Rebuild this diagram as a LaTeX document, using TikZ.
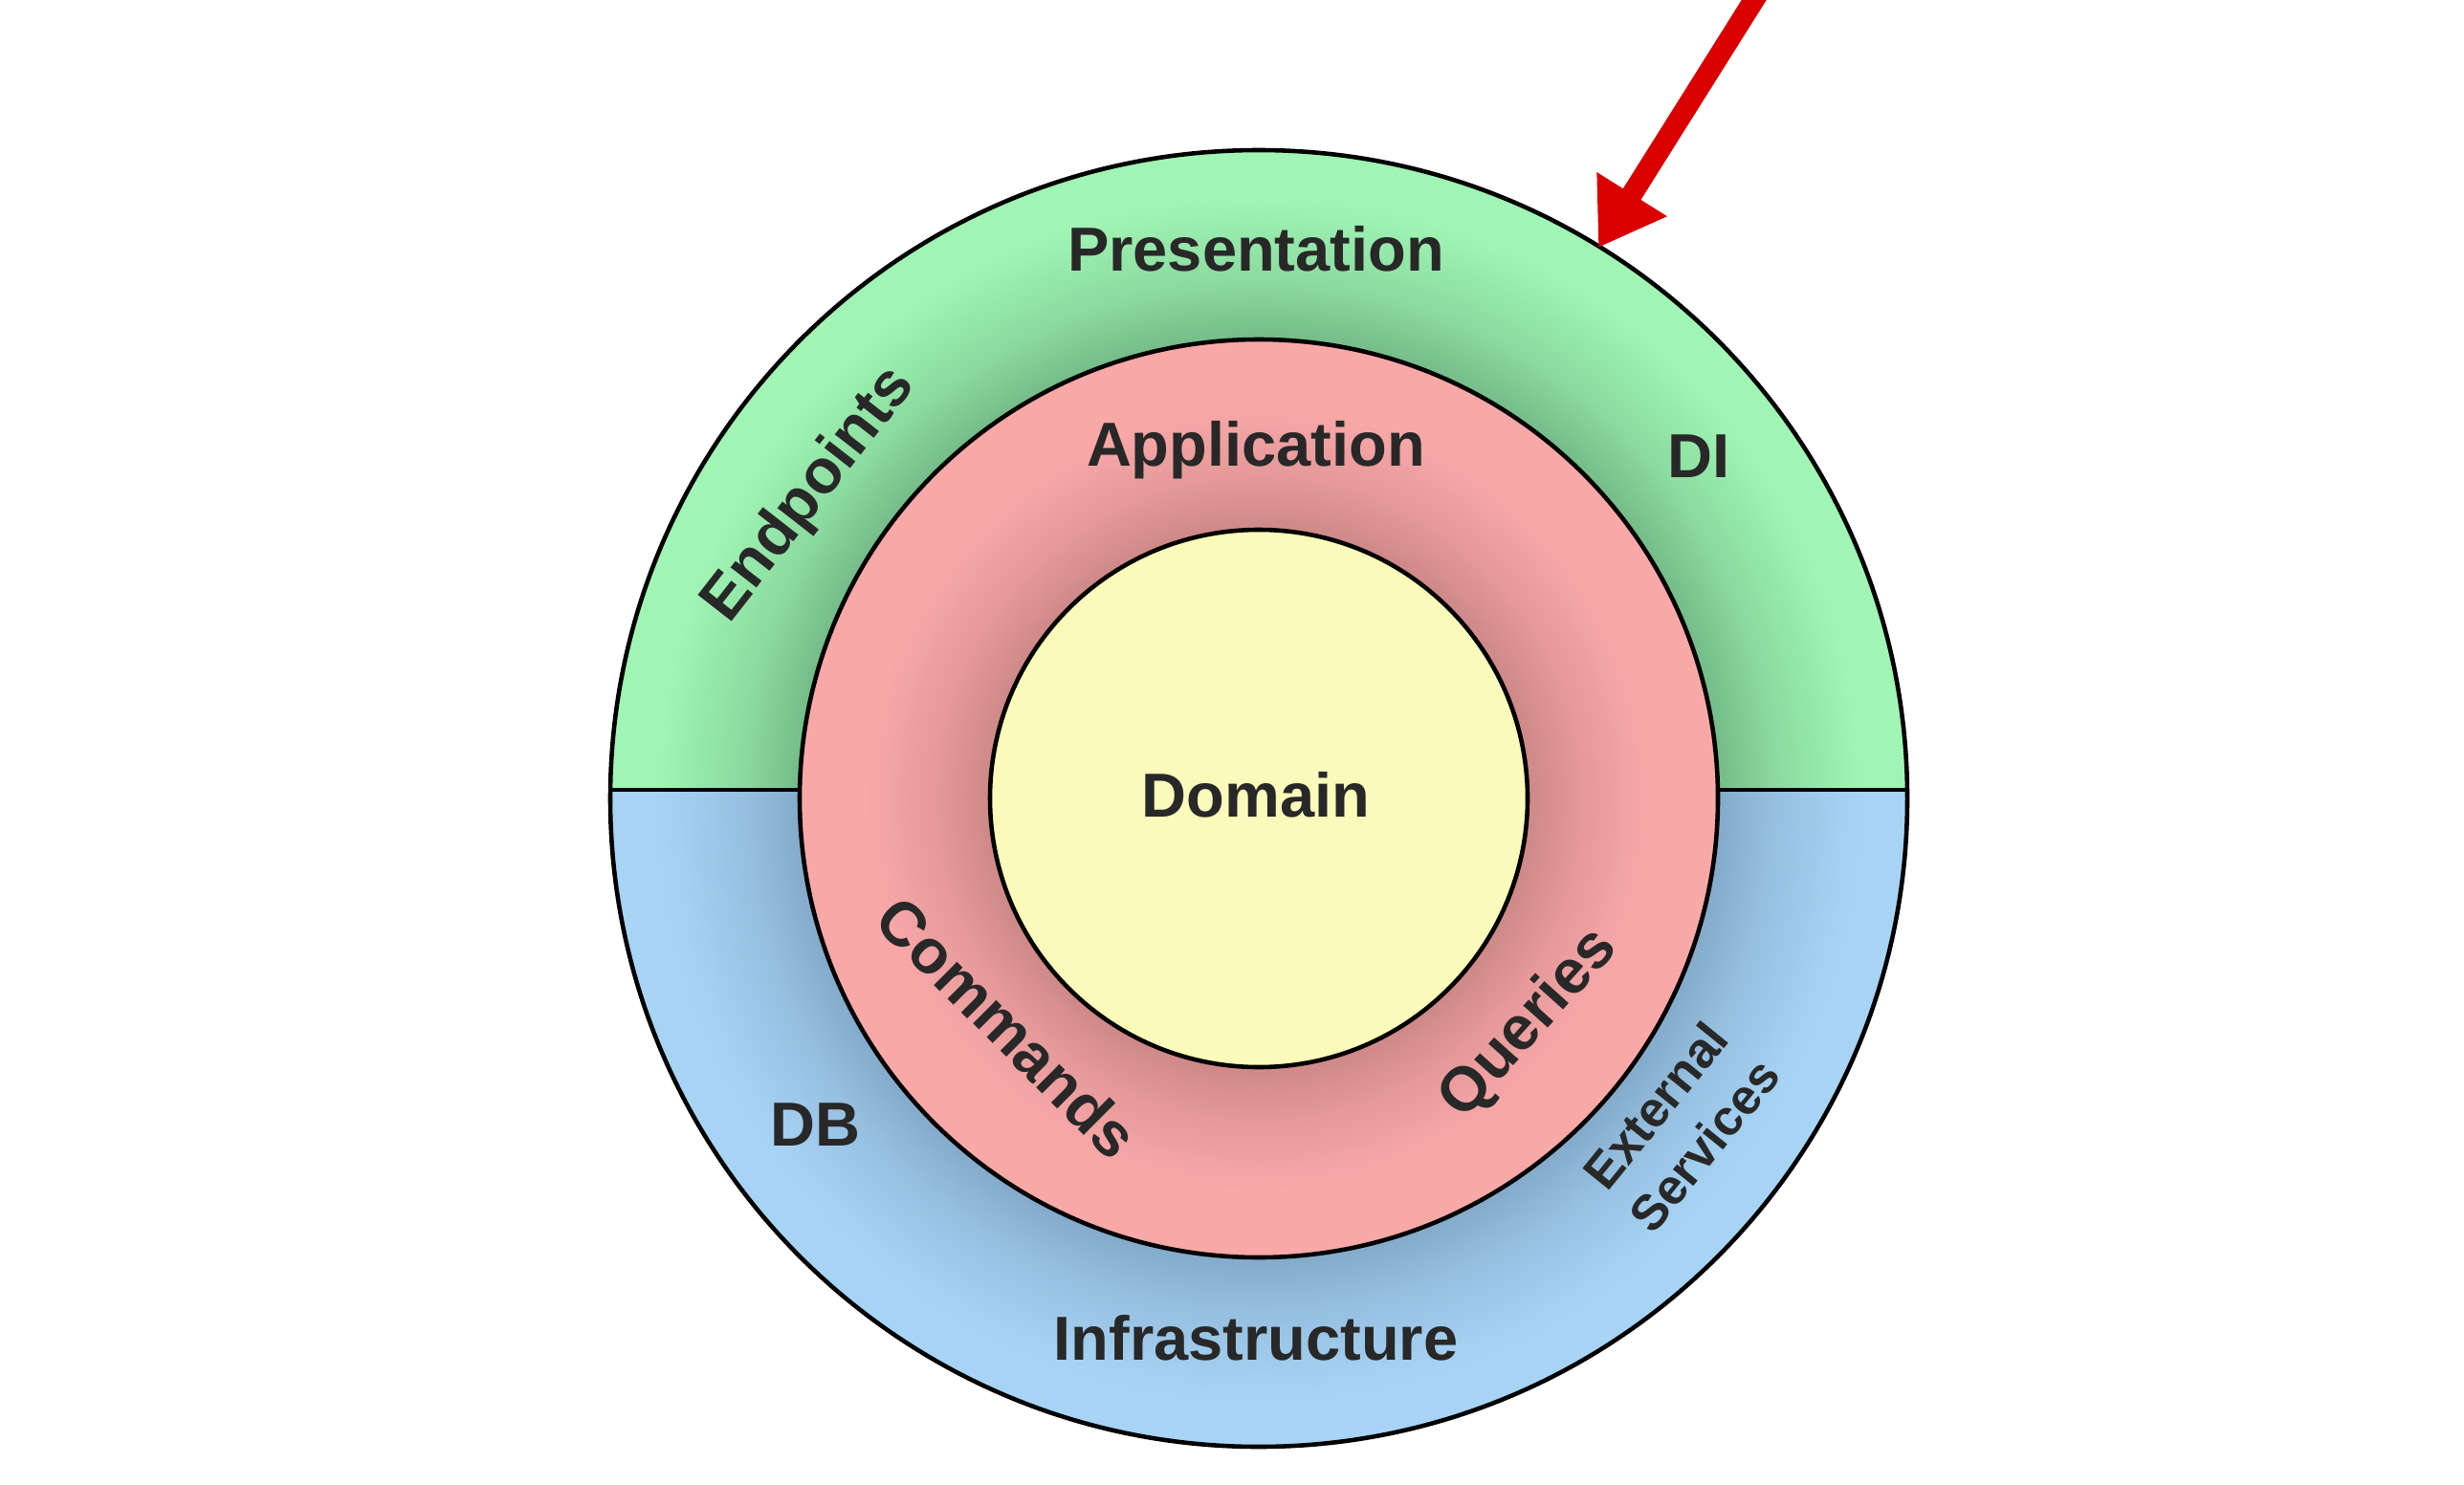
\documentclass[tikz,border=0pt]{standalone}
\usepackage{fontspec}
\setmainfont{Liberation Sans}
\usetikzlibrary{arrows.meta}

\definecolor{presgreen}{RGB}{160,245,180}
\definecolor{presgreendark}{RGB}{116,188,136}
\definecolor{apppink}{RGB}{249,168,168}
\definecolor{apppinkdark}{RGB}{206,136,136}
\definecolor{infrablue}{RGB}{167,212,245}
\definecolor{infrabluedark}{RGB}{132,170,202}
\definecolor{domainyellow}{RGB}{250,250,186}
\definecolor{labelgray}{RGB}{40,40,40}
\definecolor{arrowred}{RGB}{218,0,0}

\pgfdeclareradialshading{presring}{\pgfpoint{0bp}{0bp}}{color(0bp)=(presgreendark); color(17.7bp)=(presgreendark); color(19.8bp)=(presgreen!50!presgreendark); color(23.2bp)=(presgreen); color(50bp)=(presgreen)}
\pgfdeclareradialshading{infraring}{\pgfpoint{0bp}{0bp}}{color(0bp)=(infrabluedark); color(17.7bp)=(infrabluedark); color(19.8bp)=(infrablue!50!infrabluedark); color(23.2bp)=(infrablue); color(50bp)=(infrablue)}
\pgfdeclareradialshading{appring}{\pgfpoint{0bp}{0bp}}{color(0bp)=(apppinkdark); color(14.65bp)=(apppinkdark); color(17.4bp)=(apppink!50!apppinkdark); color(21.5bp)=(apppink); color(50bp)=(apppink)}

\begin{document}
\begin{tikzpicture}[
  ringline/.style={draw=black, line width=1.3pt},
  lbl/.style={font={\fontsize{18.5}{18.5}\selectfont\bfseries}, text=labelgray, inner sep=0pt},
  onecap/.style={lbl, text height=0.72em, text depth=0pt}
]
\useasboundingbox (0,0) rectangle (25.76,15.52);
\fill[white] (0,0) rectangle (25.76,15.52);
\coordinate (c) at (13.16,7.17);
\coordinate (divleft) at (6.38,7.26);
\coordinate (divright) at (19.94,7.26);
\begin{scope}
\clip (0,7.26) rectangle (25.76,15.52);
\shade[shading=presring] (c) circle (6.78);
\end{scope}
\begin{scope}
\clip (0,0) rectangle (25.76,7.26);
\shade[shading=infraring] (c) circle (6.78);
\end{scope}
\draw[ringline] (divleft) -- (divright);
\draw[ringline] (c) circle (6.78);
\shadedraw[shading=appring, ringline] (c) circle (4.8);
\filldraw[fill=domainyellow, ringline] (c) circle (2.81);

\node[onecap] (presentation) at (13.13,12.81) {Presentation};
\node[onecap] (application) at (13.13,10.77) {Application};
\node[onecap] (domain) at (13.13,7.10) {Domain};
\node[onecap] (infrastructure) at (13.13,1.42) {Infrastructure};
\node[onecap] (di) at (17.76,10.65) {DI};
\node[onecap] (db) at (8.52,3.66) {DB};
\node[onecap, rotate=52] (endpoints) at (8.50,10.32) {Endpoints};
\node[onecap, rotate=-45] (commands) at (10.46,4.70) {Commands};
\node[onecap, rotate=48] (queries) at (16.02,4.78) {Queries};
\node[lbl, font={\fontsize{14.8}{18.8}\selectfont\bfseries}, align=center, rotate=51] (external) at (17.56,3.75) {External\\Services};

\coordinate (arrowtail) at (18.40,15.62);
\coordinate (arrowtip) at (16.71,12.93);
\draw[arrowred, line width=0.22cm, -{Triangle[length=0.66cm, width=0.82cm]}] (arrowtail) -- (arrowtip);
\end{tikzpicture}
\end{document}
